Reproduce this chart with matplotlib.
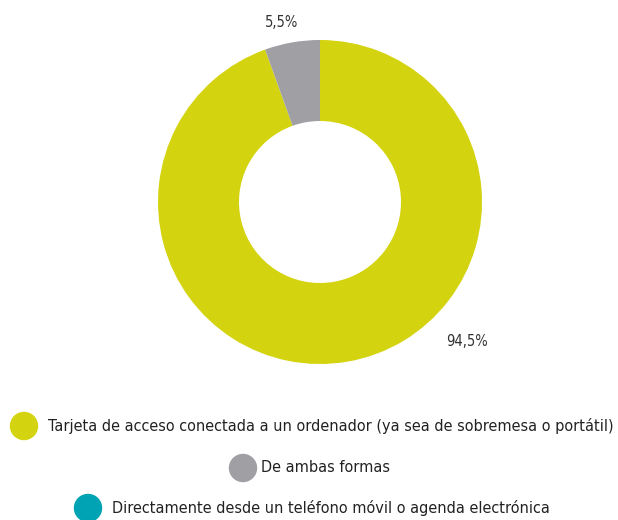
import matplotlib
matplotlib.use("Agg")
from matplotlib import pyplot as plt
import matplotlib.patches as mpatches

labels = [
    "Tarjeta de acceso conectada a un ordenador (ya sea de sobremesa o portátil)",
    "De ambas formas",
    "Directamente desde un teléfono móvil o agenda electrónica",
]
values = [94.5, 5.5, 0.0]
colors = ["#d4d30f", "#a0a0a4", "#00a3b4"]
pct_text = ["94,5%", "5,5%", None]

plt.rcParams['font.family'] = ['DejaVu Sans']
plt.rcParams['font.stretch'] = 'condensed'

fig = plt.figure(figsize=(6.18, 5.2), dpi=100)
ax = fig.add_axes([158 / 618, 1 - 364 / 520, 324 / 618, 324 / 520])
wedges, _ = ax.pie(values, colors=colors, startangle=90, counterclock=False,
                   radius=1.0, wedgeprops=dict(width=0.5, linewidth=0))
ax.set_xlim(-1, 1)
ax.set_ylim(-1, 1)
ax.set_aspect('equal')
ax.axis('off')

# percent labels
ax.text(-0.235, 1.11, pct_text[1], ha='center', va='center', fontsize=10.5, color='#333333')
ax.text(0.91, -0.86, pct_text[0], ha='center', va='center', fontsize=10.5, color='#333333')

# legend rows
rows = [(24, 426, 48), (243, 468, 261), (88, 508, 112)]
texts = []
for (cx, cy, tx), lab, col in zip(rows, labels, colors):
    fig.patches.append(mpatches.Ellipse((cx / 618, 1 - cy / 520), 27 / 618, 27 / 520,
                                        transform=fig.transFigure, color=col))
    texts.append(fig.text(tx / 618, 1 - cy / 520, lab, ha='left', va='center',
                          fontsize=12, color='#222222'))

# fit legend font size so the first line spans like the reference
r = fig.canvas.get_renderer()
w = texts[0].get_window_extent(r).width
fs = 12 * 566 / w
for t in texts:
    t.set_fontsize(fs)

fig.savefig("out.png", dpi=100)
